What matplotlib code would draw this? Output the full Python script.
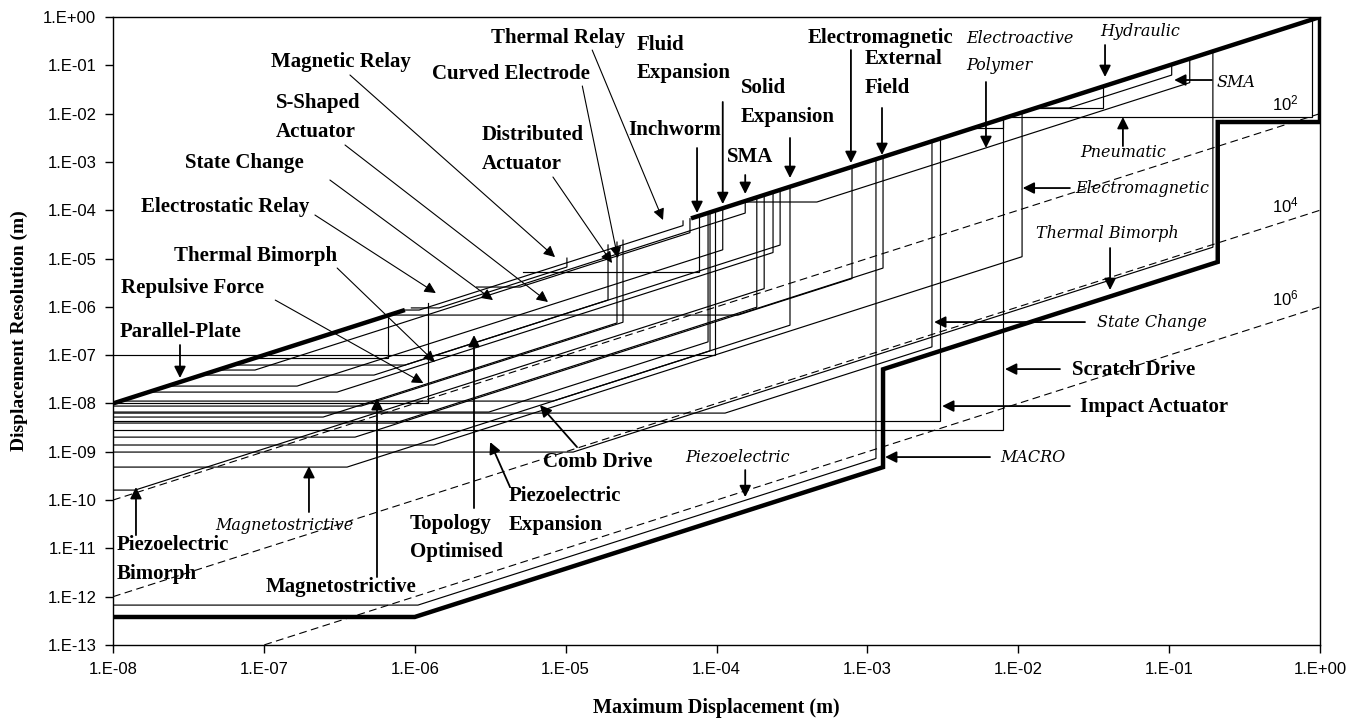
import matplotlib
matplotlib.use('Agg')
import matplotlib.pyplot as plt

# ---------------- axis ticks ----------------
x_ticks = [1e-8, 1e-7, 1e-6, 1e-5, 1e-4, 1e-3, 1e-2, 1e-1, 1e0]
x_tick_labels = ['1.E-08', '1.E-07', '1.E-06', '1.E-05', '1.E-04', '1.E-03', '1.E-02', '1.E-01', '1.E+00']
y_ticks = [1e-13, 1e-12, 1e-11, 1e-10, 1e-9, 1e-8, 1e-7, 1e-6, 1e-5, 1e-4, 1e-3, 1e-2, 1e-1, 1e0]
y_tick_labels = ['1.E-13', '1.E-12', '1.E-11', '1.E-10', '1.E-09', '1.E-08', '1.E-07',
                 '1.E-06', '1.E-05', '1.E-04', '1.E-03', '1.E-02', '1.E-01', '1.E+00']

# ---------------- constant range-ratio lines (dashed) ----------------
ratio_values = [1e2, 1e4, 1e6]
ratio_labels = [r'$\mathregular{10^2}$', r'$\mathregular{10^4}$', r'$\mathregular{10^6}$']
ratio_label_x = [0.48, 0.48, 0.48]
ratio_label_y = [1.66e-2, 1.28e-4, 1.52e-6]

# ---------------- overall envelope (thick) ----------------
env_lo_x = [1e-8, 8.6e-7]
env_lo_y = [1e-8, 8.6e-7]
env_x = [7.0e-5, 1.0, 1.0, 0.21, 0.21, 1.27e-3, 1.27e-3, 1.0e-6, 1e-9]
env_y = [7.0e-5, 1.0, 6.7e-3, 6.7e-3, 8.5e-6, 5.1e-8, 4.8e-10, 3.8e-13, 3.8e-13]

# ---------------- individual actuator regions ----------------
# min resolution, displacement where range-ratio limit starts (None = no limit), max displacement
box_res_min = [1.0e-7, 5.25e-6, 1.02e-8, 8.71e-8, 2.29e-8, 1.72e-8, 3.93e-9, 4.32e-9,
               2.81e-9, 6.64e-9, 5.23e-9, 8.83e-9, 6.76e-7, 4.82e-10, 1.61e-10, 1.12e-8,
               3.87e-8, 4.92e-8, 6.24e-8, 1.38e-9, 9.86e-10, 6.70e-13, 2.01e-9, 6.32e-9,
               1.48e-4, 1.31e-2, 1.31e-2, 8.51e-3, 5.04e-3, 8.59e-7, 9.5e-7, 2.57e-6]
box_knee = [None, None, None, None, 1.66e-7, 3.06e-7, 7.39e-7, None,
            None, 3.10e-6, 2.47e-7, 4.41e-7, 1.39e-4, 3.56e-7, 1.40e-8, 8.24e-6,
            5.37e-7, 8.73e-8, 8.61e-7, 1.34e-6, 1.12e-5, 1.05e-6, 4.02e-7, 1.14e-4,
            4.63e-4, 2.17e-2, None, None, None, 1.07e-6, 1.45e-6, 4.99e-6]
box_disp_max = [9.77e-5, 7.66e-5, 1.22e-6, 6.65e-7, 1.10e-4, 2.37e-4, 1.85e-4, 3.03e-3,
                7.93e-3, 8.79e-5, 2.19e-5, 2.40e-5, 7.91e-4, 9.06e-5, 2.07e-4, 3.07e-4,
                2.64e-4, 1.55e-4, 1.91e-5, 1.06e-2, 0.195, 1.14e-3, 1.27e-3, 2.68e-3,
                0.137, 0.104, 3.65e-2, 0.885, 7.93e-3, 6.0e-5, 1.02e-5, 6.67e-5]
box_from_axis = [True] + [False] * 31

# ---------------- labels ----------------
label_text = ['Thermal Relay', 'Fluid\nExpansion', 'Electromagnetic', 'External\nField',
              'Magnetic Relay', 'Curved Electrode', 'S-Shaped\nActuator', 'Distributed\nActuator',
              'Solid\nExpansion', 'Inchworm', 'SMA', 'State Change', 'Electrostatic Relay',
              'Thermal Bimorph', 'Repulsive Force', 'Parallel-Plate', 'Comb Drive',
              'Piezoelectric\nExpansion', 'Topology\nOptimised', 'Piezoelectric\nBimorph',
              'Magnetostrictive', 'Scratch Drive', 'Impact Actuator',
              'Electroactive\nPolymer', 'Hydraulic', 'SMA', 'Pneumatic', 'Electromagnetic',
              'Thermal Bimorph', 'State Change', 'MACRO', 'Piezoelectric', 'Magnetostrictive']
label_x = [3.20e-6, 2.97e-5, 4.04e-4, 9.64e-4, 1.11e-7, 1.30e-6, 1.20e-7, 2.79e-6,
           1.45e-4, 2.59e-5, 1.17e-4, 3.00e-8, 1.53e-8, 2.54e-8, 1.13e-8, 1.11e-8, 7.08e-6,
           4.22e-6, 9.29e-7, 1.05e-8, 1.02e-7, 2.27e-2, 2.56e-2,
           4.51e-3, 3.48e-2, 0.205, 2.56e-2, 2.38e-2, 1.31e-2, 3.33e-2, 7.57e-3, 6.18e-5, 4.74e-8]
label_y = [0.367, 0.135, 0.367, 6.77e-2, 0.117, 6.61e-2, 8.30e-3, 1.81e-3,
           1.70e-2, 4.57e-3, 1.26e-3, 9.49e-4, 1.16e-4, 1.13e-5, 2.45e-6, 3.01e-7, 6.12e-10,
           6.07e-11, 1.67e-11, 5.86e-12, 1.58e-12, 4.92e-8, 8.42e-9,
           0.188, 0.513, 4.51e-2, 1.60e-3, 2.88e-4, 3.37e-5, 4.84e-7, 7.77e-10, 7.77e-10, 3.03e-11]
label_italic = [False] * 23 + [True] * 10

# ---------------- arrows (tail -> head) ----------------
arrow_tail_x = [1.50e-5, 3.72e-7, 1.29e-5, 8.24e-6, 3.45e-7, 2.74e-7, 2.18e-7, 3.06e-7, 1.19e-7,
                2.78e-8, 1.42e-8, 1.99e-7, 5.62e-7, 2.47e-6, 4.28e-6, 1.19e-5,
                7.43e-5, 1.10e-4, 1.55e-4, 3.07e-4, 7.78e-4, 1.25e-3, 6.11e-3, 3.76e-2,
                0.192, 4.94e-2, 2.20e-2, 4.06e-2, 2.77e-2, 1.89e-2, 2.20e-2, 6.50e-3, 1.55e-4]
arrow_tail_y = [0.207, 6.3e-2, 3.73e-2, 4.87e-4, 2.24e-3, 4.22e-4, 7.96e-5, 6.36e-6, 1.38e-6,
                1.62e-7, 1.88e-11, 5.65e-11, 2.55e-12, 6.83e-11, 1.86e-10, 1.25e-9,
                1.94e-3, 1.74e-2, 5.36e-4, 3.13e-3, 0.207, 1.31e-2, 4.51e-2, 0.263,
                4.96e-2, 2.13e-3, 2.88e-4, 1.65e-5, 4.84e-7, 5.15e-8, 8.83e-9, 7.77e-10, 4.18e-10]
arrow_head_x = [4.42e-5, 8.51e-6, 2.22e-5, 2.03e-5, 7.64e-6, 3.30e-6, 1.38e-6, 1.36e-6, 1.14e-6,
                2.78e-8, 1.42e-8, 1.99e-7, 5.62e-7, 2.47e-6, 3.16e-6, 6.76e-6,
                7.43e-5, 1.10e-4, 1.55e-4, 3.07e-4, 7.78e-4, 1.25e-3, 6.11e-3, 3.76e-2,
                0.108, 4.94e-2, 1.07e-2, 4.06e-2, 2.77e-3, 8.17e-3, 3.13e-3, 1.31e-3, 1.55e-4]
arrow_head_y = [6.27e-5, 1.07e-5, 1.02e-5, 8.07e-6, 1.26e-6, 1.38e-6, 1.93e-6, 7.19e-8, 2.64e-8,
                3.36e-8, 1.86e-10, 5.06e-10, 1.29e-8, 2.61e-7, 1.59e-9, 9.27e-9,
                8.75e-5, 1.34e-4, 2.17e-4, 4.64e-4, 9.49e-4, 1.39e-3, 1.94e-3, 5.73e-2,
                4.96e-2, 8.51e-3, 2.88e-4, 2.23e-6, 4.84e-7, 5.15e-8, 8.83e-9, 7.77e-10, 1.15e-10]
arrow_bold = [False] * 9 + [True] * 24

# ================= drawing =================
fig = plt.figure(figsize=(13.64, 7.22), dpi=100)
ax = fig.add_axes([113 / 1364, 1 - 645 / 722, (1320 - 113) / 1364, (645 - 17) / 722])
ax.set_xscale('log')
ax.set_yscale('log')
ax.set_xlim(1e-8, 1.0)
ax.set_ylim(1e-13, 1.0)

# dashed ratio lines
for r in ratio_values:
    ax.plot([1e-8, 1.0], [1e-8 / r, 1.0 / r], color='black', lw=0.8,
            linestyle=(0, (7, 4)), clip_on=True)
for t, lx, ly in zip(ratio_labels, ratio_label_x, ratio_label_y):
    ax.text(lx, ly, t, fontsize=12, family='Liberation Sans', ha='left', va='center')

# actuator regions
for ymin, knee, xmax, from_axis in zip(box_res_min, box_knee, box_disp_max, box_from_axis):
    if from_axis or ymin < 1e-8:
        x0 = 1e-9
    else:
        x0 = ymin
    if knee is None or knee >= xmax:
        xs = [x0, xmax, xmax]
        ys = [ymin, ymin, xmax]
    else:
        ybot = ymin * xmax / knee
        xs = [x0, knee, xmax, xmax]
        ys = [ymin, ymin, ybot, xmax]
    ax.plot(xs, ys, color='black', lw=0.85, solid_joinstyle='miter')

# thick envelope
ax.plot(env_lo_x, env_lo_y, color='black', lw=3.2, solid_capstyle='butt')
ax.plot(env_x, env_y, color='black', lw=3.2, solid_joinstyle='miter')

# labels
for t, lx, ly, it in zip(label_text, label_x, label_y, label_italic):
    if it:
        ax.text(lx, ly, t, fontsize=11.5, family='DejaVu Serif', style='italic',
                ha='left', va='center', linespacing=1.75)
    else:
        ax.text(lx, ly, t, fontsize=15, family='Liberation Serif', weight='bold',
                ha='left', va='center', linespacing=1.55)

# arrows
for tx, ty, hx, hy, b in zip(arrow_tail_x, arrow_tail_y, arrow_head_x, arrow_head_y, arrow_bold):
    ax.annotate('', xy=(hx, hy), xytext=(tx, ty),
                arrowprops=dict(arrowstyle='-|>', color='black', lw=1.3 if b else 0.8,
                                mutation_scale=17, shrinkA=0, shrinkB=0))

# axes styling
ax.set_xticks(x_ticks)
ax.set_xticklabels(x_tick_labels)
ax.set_yticks(y_ticks)
ax.set_yticklabels(y_tick_labels)
ax.minorticks_off()
ax.tick_params(axis='both', direction='out', length=6, width=1, labelsize=12, pad=6)
for lab in ax.get_xticklabels() + ax.get_yticklabels():
    lab.set_family('Liberation Sans')
for s in ax.spines.values():
    s.set_linewidth(1.0)

ax.set_xlabel('Maximum Displacement (m)', fontsize=14.5, family='Liberation Serif',
              weight='bold', labelpad=15)
ax.set_ylabel('Displacement Resolution (m)', fontsize=14, family='Liberation Serif',
              weight='bold', labelpad=11)

fig.savefig('out.png', dpi=100, facecolor='white')
